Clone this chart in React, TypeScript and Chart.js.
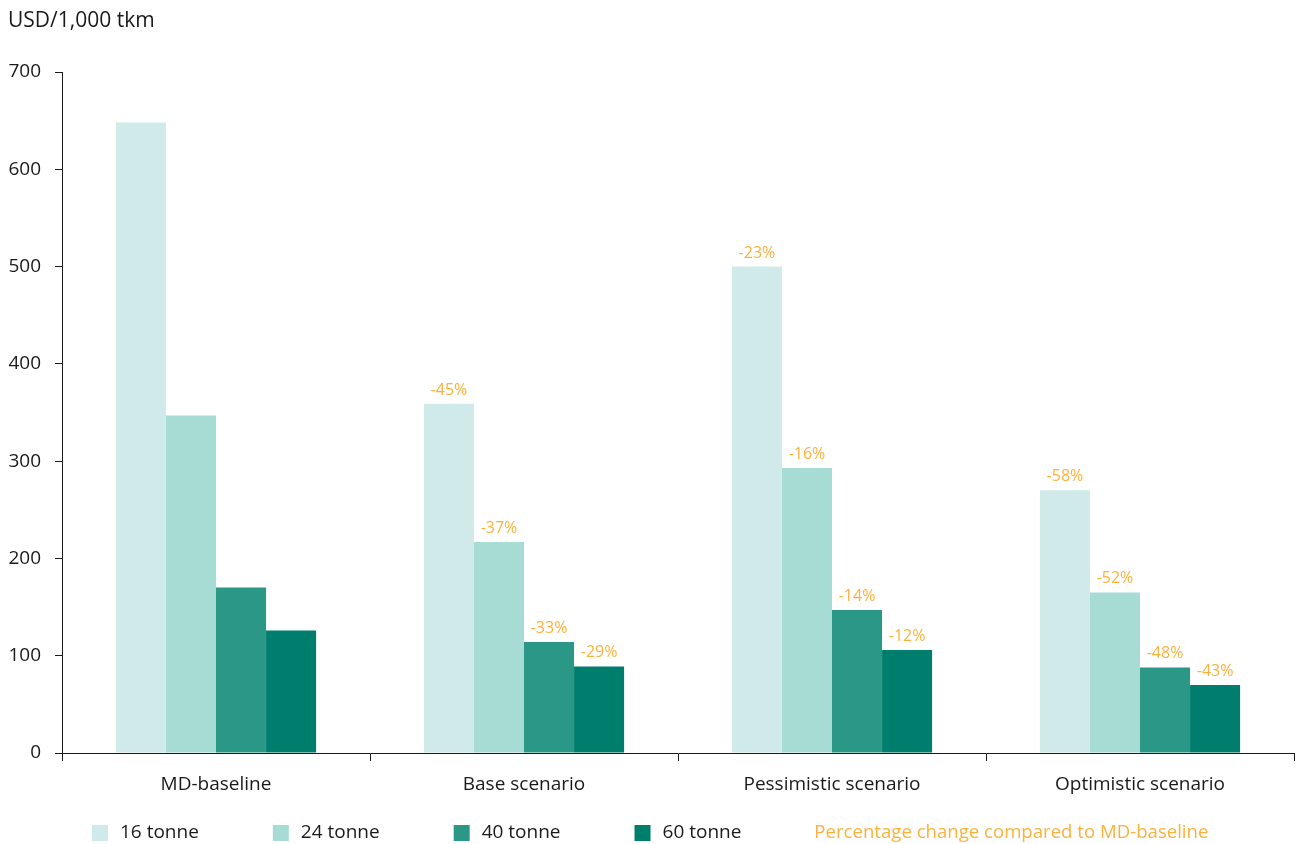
import React, { useEffect, useRef } from "react";
import { Chart, registerables } from "chart.js";

Chart.register(...registerables);

const categories = ["MD-baseline", "Base scenario", "Pessimistic scenario", "Optimistic scenario"];
const seriesNames = ["16 tonne", "24 tonne", "40 tonne", "60 tonne"];
const values16 = [648, 359, 500, 270];
const values24 = [347, 217, 293, 165];
const values40 = [170, 114, 147, 88];
const values60 = [126, 89, 106, 70];
const pct16 = ["", "-45%", "-23%", "-58%"];
const pct24 = ["", "-37%", "-16%", "-52%"];
const pct40 = ["", "-33%", "-14%", "-48%"];
const pct60 = ["", "-29%", "-12%", "-43%"];
const colors = ["#d0eaea", "#a7dcd5", "#2a9787", "#007e6d"];
const pctLegend = "Percentage change compared to MD-baseline";
const yTitle = "USD/1,000 tkm";
const orange = "#fbb13c";
const FONT = "'Open Sans', sans-serif";

export default function App() {
  const ref = useRef<HTMLCanvasElement | null>(null);
  useEffect(() => {
    document.body.style.margin = "0";
    const allVals = [values16, values24, values40, values60];
    const allPct = [pct16, pct24, pct40, pct60];
    const overlay = {
      id: "overlay",
      afterDatasetsDraw(chart: any) {
        const ctx = chart.ctx;
        ctx.save();
        // percentage labels
        ctx.font = `16px ${FONT}`;
        ctx.fillStyle = orange;
        ctx.textAlign = "center";
        ctx.textBaseline = "alphabetic";
        chart.data.datasets.forEach((ds: any, i: number) => {
          const meta = chart.getDatasetMeta(i);
          meta.data.forEach((bar: any, j: number) => {
            const t = allPct[i][j];
            if (t) ctx.fillText(t, bar.x, bar.y - 9);
          });
        });
        // y title
        ctx.font = `21px ${FONT}`;
        ctx.fillStyle = "#1a1a1a";
        ctx.textAlign = "left";
        ctx.textBaseline = "middle";
        ctx.fillText(yTitle, 8, 21);
        // legend
        ctx.font = `19px ${FONT}`;
        let x = 92;
        const y = 833;
        seriesNames.forEach((n, i) => {
          ctx.fillStyle = colors[i];
          ctx.fillRect(x, y - 8, 16, 16);
          ctx.fillStyle = "#1a1a1a";
          ctx.fillText(n, x + 28, y);
          x += 28 + ctx.measureText(n).width + 74;
        });
        ctx.font = `18.6px ${FONT}`;
        ctx.fillStyle = orange;
        ctx.fillText(pctLegend, x - 1, y);
        ctx.restore();
      },
    };
    const chart = new Chart(ref.current!, {
      type: "bar",
      data: {
        labels: categories,
        datasets: seriesNames.map((n, i) => ({
          label: n,
          data: allVals[i],
          backgroundColor: colors[i],
          borderWidth: 0,
          categoryPercentage: 0.65,
          barPercentage: 1,
        })),
      },
      options: {
        animation: false,
        responsive: false,
        maintainAspectRatio: false,
        layout: { padding: { top: 72, right: 2, left: 0, bottom: 0 } },
        plugins: { legend: { display: false }, tooltip: { enabled: false }, title: { display: false } },
        scales: {
          x: {
            afterFit: (s: any) => { s.height = 91; },
            grid: { offset: true, drawOnChartArea: false, drawTicks: true, tickLength: 8, color: "#1a1a1a" },
            border: { color: "#1a1a1a", width: 1 },
            ticks: { color: "#1a1a1a", font: { family: FONT, size: 19 }, padding: 12 },
          },
          y: {
            min: 0,
            max: 700,
            afterFit: (s: any) => { s.width = 62; },
            grid: { drawOnChartArea: false, drawTicks: true, tickLength: 7, color: "#1a1a1a" },
            border: { color: "#1a1a1a", width: 1 },
            ticks: { stepSize: 100, color: "#1a1a1a", font: { family: FONT, size: 19 }, padding: 14 },
          },
        },
      },
      plugins: [overlay],
    });
    return () => chart.destroy();
  }, []);
  return <canvas ref={ref} width={1296} height={844} style={{ display: "block" }} />;
}
